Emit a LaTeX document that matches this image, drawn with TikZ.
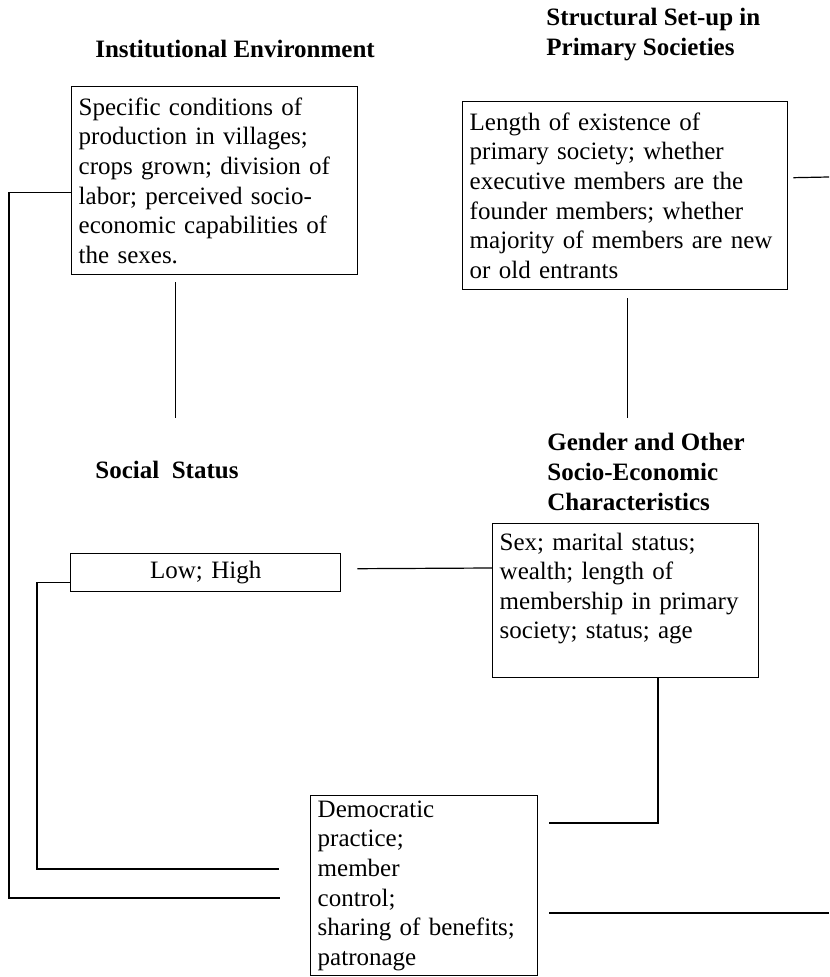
\documentclass[tikz,border=0pt]{standalone}
\usepackage{fontspec}
\setmainfont{Liberation Serif}

\begin{document}
\begin{tikzpicture}[x=0.5pt, y=-0.5pt,
    every node/.style={font=\fontsize{12.5}{14.8}\selectfont},
    box/.style={draw, line width=0.7pt, anchor=north west, inner xsep=3.5pt, inner ysep=0pt, align=left},
    heading/.style={font=\fontsize{12.5}{15}\selectfont\bfseries, inner sep=0pt, align=left},
    link/.style={line width=0.6pt}]
    \useasboundingbox (0,0) rectangle (829,977);

    % Headings
    \node[heading] (envTitle) at (235,49) {Institutional Environment};
    \node[heading, anchor=west] (setupTitle) at (546,35) {Structural Set-up in\\Primary Societies};
    \node[heading, anchor=west] (statusTitle) at (95,470) {Social\ \ Status};
    \node[heading, anchor=west] (genderTitle) at (547,472) {Gender and Other\\Socio-Economic\\Characteristics};

    % Boxes
    \node[box, minimum width=143pt, minimum height=94pt, text width=136pt] (envBox) at (71,86)
        {Specific conditions of\\production in villages;\\crops grown; division of\\labor; perceived socio-\\economic capabilities of\\the sexes.};
    \node[box, minimum width=162.5pt, minimum height=94pt, text width=155.5pt] (setupBox) at (462,101)
        {Length of existence of\\primary society; whether\\executive members are the\\founder members; whether\\majority of members are new\\or old entrants};
    \node[box, minimum width=135pt, minimum height=19pt, text width=128pt, align=center] (statusBox) at (70,553)
        {Low; High};
    \node[box, minimum width=133pt, minimum height=77pt, text width=126pt] (genderBox) at (492,523)
        {Sex; marital status;\\wealth; length of\\membership in primary\\society; status; age\\~};
    \node[box, minimum width=113.5pt, minimum height=90pt, text width=106.5pt] (demBox) at (310,795)
        {Democratic\\practice;\\member\\control;\\sharing of benefits;\\patronage};

    % Connectors
    \coordinate (envEnd) at (280,898);
    \coordinate (statusEnd) at (279,869);
    \coordinate (setupEnd) at (829,177);
    \coordinate (genderEnd) at (549,823);
    \coordinate (demOut) at (549,913);
    \coordinate (demEnd) at (829,913);

    \draw[link] ([yshift=-6pt]envBox.west) -| (9,898) -- (envEnd);
    \draw[link] (envBox.south) ++(-39,7) -- ++(0,136);
    \draw[link] (setupBox.south) ++(2.5,8) -- ++(0,120);
    \draw[link] (setupBox.east) ++(5,-18) -- (setupEnd);
    \draw[link] ([yshift=-5pt]statusBox.west) -| (37,869) -- (statusEnd);
    \draw[link] (statusBox.east) ++(16,-4) -- (genderBox.west |- 0,568);
    \draw[link] (genderBox.south -| 658,0) |- (genderEnd);
    \draw[link] (demOut) -- (demEnd);
\end{tikzpicture}
\end{document}
